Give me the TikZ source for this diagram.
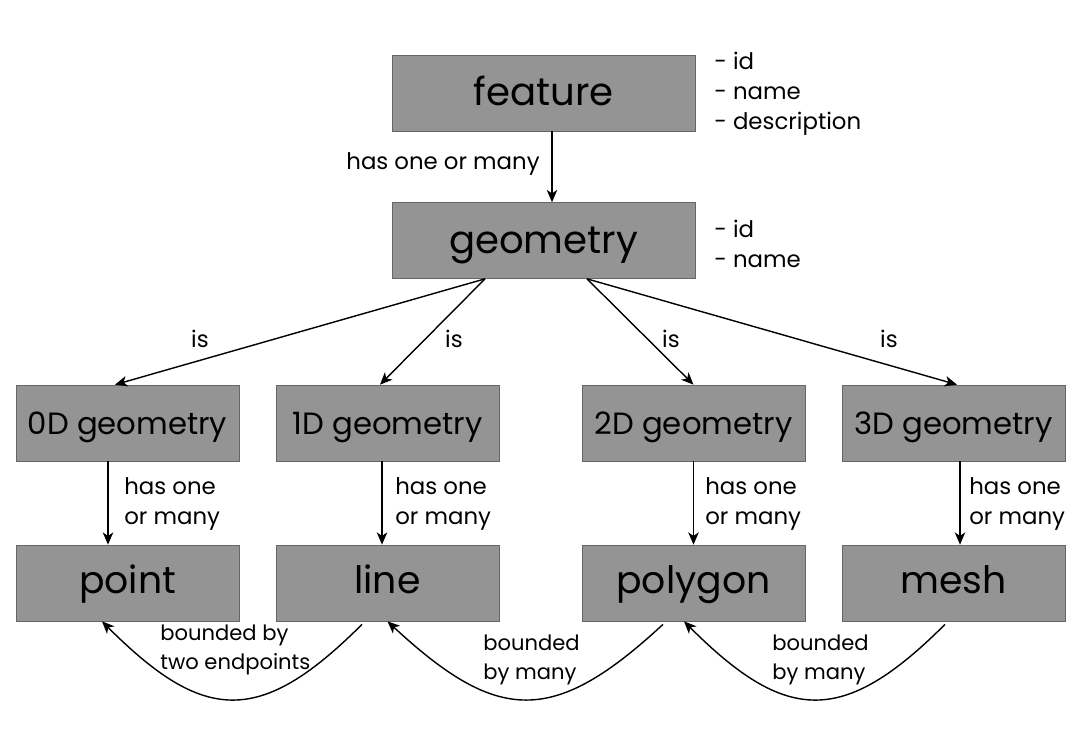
\documentclass[tikz,border=0pt]{standalone}
\usepackage{fontspec}
\setmainfont{Poppins}
\usetikzlibrary{arrows.meta}

\tikzset{
  bigbox/.style={draw=black!60, fill=black!42, minimum width=6.06cm, minimum height=1.52cm, inner sep=0pt, text height=18.5pt, text depth=4pt, font=\fontsize{22}{24}\selectfont},
  midbox/.style={draw=black!60, fill=black!42, minimum width=4.46cm, minimum height=1.52cm, inner sep=0pt, text height=17pt, text depth=3.4pt, font=\fontsize{17.5}{18}\selectfont},
  leafbox/.style={draw=black!60, fill=black!42, minimum width=4.46cm, minimum height=1.52cm, inner sep=0pt, text height=16pt, text depth=4.6pt, font=\fontsize{21.5}{24}\selectfont},
  lbl/.style={inner sep=0pt, font=\fontsize{13}{17}\selectfont, align=left},
  bndlbl/.style={lbl, font=\fontsize{12}{16.5}\selectfont},
  rel/.style={-{Stealth[length=7pt,width=6pt,inset=2pt]}, line width=0.8pt}
}

\begin{document}
\begin{tikzpicture}[x=0.02cm, y=-0.02cm]
\useasboundingbox (0,0) rectangle (1079,745);

% top of the tree
\node [bigbox] (feature) at (543.5,93) {feature};
\node [bigbox] (geometry) at (543.5,240.5) {geometry};
\node [lbl, anchor=west] (featattr) at (714,94) {- id\\- name\\- description};
\node [lbl, anchor=west] (geomattr) at (714,244) {- id\\- name};

% the four kinds
\node [midbox] (g0) at (127.5,423) {0D geometry};
\node [midbox] (g1) at (387.5,423) {1D geometry};
\node [midbox] (g2) at (693.5,423) {2D geometry};
\node [midbox] (g3) at (953.5,423) {3D geometry};

\node [leafbox] (point) at (127.5,583) {point};
\node [leafbox] (line) at (387.5,583) {line};
\node [leafbox] (polygon) at (693.5,583) {polygon};
\node [leafbox] (mesh) at (953.5,583) {mesh};

\draw [rel] ([xshift=0.17cm]feature.south) -- ([xshift=0.17cm]geometry.north);
\node [lbl, anchor=east] (hasgeom) at (540,164) {has one or many};

\draw [rel] ([xshift=-1.17cm]geometry.south) -- ([xshift=-0.25cm]g0.north);
\draw [rel] ([xshift=-1.17cm]geometry.south) -- ([xshift=-0.15cm]g1.north);
\draw [rel] ([xshift=0.87cm]geometry.south) -- (g2.north);
\draw [rel] ([xshift=0.87cm]geometry.south) -- ([xshift=0.07cm]g3.north);
\node [lbl] (is0) at (200,339) {is};
\node [lbl] (is1) at (454,339) {is};
\node [lbl] (is2) at (671,339) {is};
\node [lbl] (is3) at (889,339) {is};

\draw [rel] ([xshift=-0.39cm]g0.south) -- ([xshift=-0.39cm]point.north);
\draw [rel] ([xshift=-0.11cm]g1.south) -- ([xshift=-0.11cm]line.north);
\draw [rel] (g2.south) -- (polygon.north);
\draw [rel] ([xshift=0.13cm]g3.south) -- ([xshift=0.13cm]mesh.north);
\node [lbl, anchor=west] (has0) at (124,504) {has one\\or many};
\node [lbl, anchor=west] (has1) at (395,504) {has one\\or many};
\node [lbl, anchor=west] (has2) at (705,504) {has one\\or many};
\node [lbl, anchor=west] (has3) at (969,504) {has one\\or many};

% boundaries
\draw [rel] ([xshift=-0.51cm,yshift=-0.06cm]line.south) .. controls +(-102,102) and +(102,102) .. ([xshift=-0.51cm]point.south);
\draw [rel] ([xshift=-0.61cm,yshift=-0.06cm]polygon.south) .. controls +(-110,102) and +(110,102) .. (line.south);
\draw [rel] ([xshift=-0.17cm,yshift=-0.06cm]mesh.south) .. controls +(-102,102) and +(102,102) .. ([xshift=-0.19cm]polygon.south);
\node [bndlbl, anchor=west] (bnd0) at (160,650) {bounded by\\two endpoints};
\node [bndlbl, anchor=west] (bnd1) at (483,660) {bounded\\by many};
\node [bndlbl, anchor=west] (bnd2) at (772,660) {bounded\\by many};
\end{tikzpicture}
\end{document}
